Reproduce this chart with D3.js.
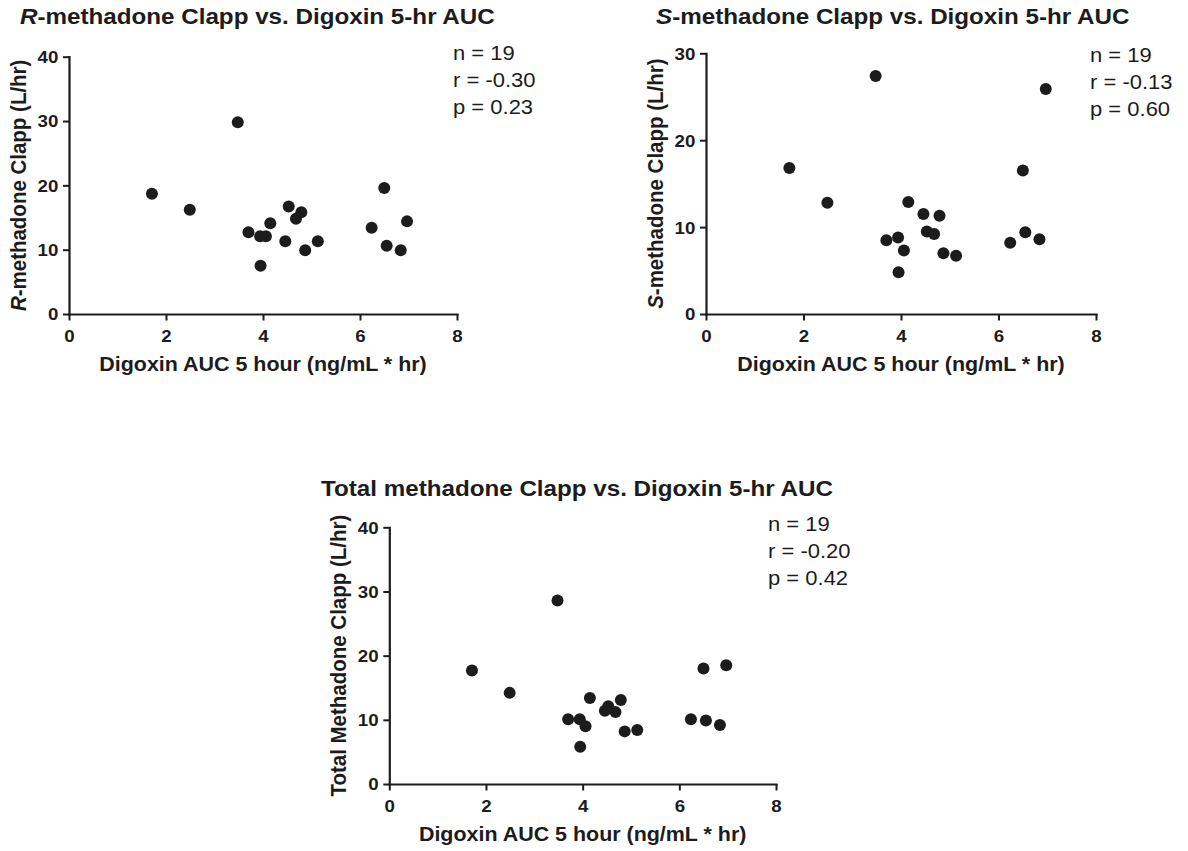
<!DOCTYPE html>
<html>
<head>
<meta charset="utf-8">
<script src="https://cdn.jsdelivr.net/npm/d3@7"></script>
<style>
  html, body { margin: 0; padding: 0; background: #fff; }
  svg { display: block; font-family: "Liberation Sans", Arial, Helvetica, sans-serif; }
</style>
</head>
<body>
<svg id="chart" width="1188" height="851"></svg>
<script>
// Digoxin 5-hr AUC (ng/mL * hr), one value per subject (n = 19)
const digoxinAUC = [1.71, 2.49, 3.48, 3.70, 3.94, 4.06, 3.95, 4.15, 4.46, 4.53,
                    4.68, 4.79, 4.87, 5.13, 6.24, 6.50, 6.55, 6.84, 6.97];

// Apparent oral clearance (L/hr) for each subject
const rClapp = [18.7, 16.2, 29.8, 12.7, 12.1, 12.1, 7.5, 14.1, 11.3, 16.7,
                14.8, 15.8, 9.9, 11.3, 13.4, 19.6, 10.6, 9.9, 14.4];
const sClapp = [16.8, 12.8, 27.4, 8.5, 8.8, 7.3, 4.8, 12.9, 11.5, 9.5,
                9.2, 11.3, 7.0, 6.7, 8.2, 16.5, 9.4, 8.6, 25.9];
const totalClapp = [17.7, 14.2, 28.6, 10.1, 10.1, 9.0, 5.8, 13.4, 11.4, 12.1,
                    11.2, 13.1, 8.2, 8.4, 10.1, 18.0, 9.9, 9.2, 18.5];

// Axis ticks
const xTicks = [0, 2, 4, 6, 8];
const yTicks40 = [0, 10, 20, 30, 40];
const yTicks30 = [0, 10, 20, 30];

// Correlation summaries
const rStats = ["n = 19", "r = -0.30", "p = 0.23"];
const sStats = ["n = 19", "r = -0.13", "p = 0.60"];
const totalStats = ["n = 19", "r = -0.20", "p = 0.42"];

// Titles and axis labels ([italic prefix, rest])
const rTitle = ["R", "-methadone Clapp vs. Digoxin 5-hr AUC"];
const sTitle = ["S", "-methadone Clapp vs. Digoxin 5-hr AUC"];
const totalTitle = ["", "Total methadone Clapp vs. Digoxin 5-hr AUC"];
const rYLabel = ["R", "-methadone Clapp (L/hr)"];
const sYLabel = ["S", "-methadone Clapp (L/hr)"];
const totalYLabel = ["", "Total Methadone Clapp (L/hr)"];
const xLabel = "Digoxin AUC 5 hour (ng/mL * hr)";

const INK = "#1c1c1c";
const STRETCH = 1.1; // glyphs are set slightly wide

const panels = [
  { title: rTitle, yLabel: rYLabel, yValues: rClapp, yTicks: yTicks40, stats: rStats,
    box: { left: 69, right: 457, top: 56.7, bottom: 314 },
    titleX: 20, titleY: 23.5, statX: 453, statY: 60, yLabX: 26, xLabY: 371 },
  { title: sTitle, yLabel: sYLabel, yValues: sClapp, yTicks: yTicks30, stats: sStats,
    box: { left: 706, right: 1096, top: 53.3, bottom: 314 },
    titleX: 656, titleY: 23.5, statX: 1090, statY: 62, yLabX: 663, xLabY: 371 },
  { title: totalTitle, yLabel: totalYLabel, yValues: totalClapp, yTicks: yTicks40, stats: totalStats,
    box: { left: 389.3, right: 776, top: 527.3, bottom: 784 },
    titleX: 321, titleY: 496, statX: 768, statY: 531, yLabX: 346, xLabY: 841 }
];

const svg = d3.select("#chart");

function richText(sel, parts) {
  if (parts[0]) sel.append("tspan").attr("font-style", "italic").text(parts[0]);
  sel.append("tspan").text(parts[1]);
}

panels.forEach(p => {
  const g = svg.append("g");
  const b = p.box;
  const x = d3.scaleLinear().domain([0, 8]).range([b.left, b.right]);
  const yMax = p.yTicks[p.yTicks.length - 1];
  const y = d3.scaleLinear().domain([0, yMax]).range([b.bottom, b.top]);

  // Title
  const t = g.append("text")
    .attr("transform", `translate(${p.titleX},${p.titleY}) scale(${STRETCH},1)`)
    .attr("font-size", 22).attr("font-weight", "bold").attr("fill", INK);
  richText(t, p.title);

  // X axis
  const xa = g.append("g")
    .attr("transform", `translate(0,${b.bottom})`)
    .call(d3.axisBottom(x).tickValues(xTicks).tickSize(6.5).tickSizeOuter(0).tickFormat(d3.format("d")));
  // Y axis
  const ya = g.append("g")
    .attr("transform", `translate(${b.left},0)`)
    .call(d3.axisLeft(y).tickValues(p.yTicks).tickSize(6).tickSizeOuter(0).tickFormat(d3.format("d")));

  [xa, ya].forEach(a => {
    a.attr("font-size", 17).attr("font-family", null);
    a.select(".domain").attr("stroke", INK).attr("stroke-width", 2.2).attr("stroke-linecap", "square");
    a.selectAll(".tick line").attr("stroke", INK).attr("stroke-width", 2);
    a.selectAll(".tick text")
      .attr("fill", INK).attr("font-size", 17).attr("font-weight", "bold");
  });
  xa.selectAll(".tick text").attr("y", 27.7).attr("dy", null)
    .attr("transform", `scale(${STRETCH},1)`);
  ya.selectAll(".tick text").attr("x", -10.7 / STRETCH).attr("dy", "0.35em")
    .attr("transform", `scale(${STRETCH},1)`);

  // X axis label
  g.append("text")
    .attr("transform", `translate(${(b.left + b.right) / 2},${p.xLabY}) scale(${STRETCH},1)`)
    .attr("text-anchor", "middle").attr("font-size", 19.5).attr("font-weight", "bold")
    .attr("fill", INK).text(xLabel);

  // Y axis label
  const yl = g.append("text")
    .attr("transform", `translate(${p.yLabX},${(b.top + b.bottom) / 2}) scale(${STRETCH},1) rotate(-90)`)
    .attr("text-anchor", "middle").attr("font-size", 20.5).attr("font-weight", "bold")
    .attr("fill", INK);
  richText(yl, p.yLabel);

  // Points
  g.append("g").selectAll("circle")
    .data(digoxinAUC.map((d, i) => [d, p.yValues[i]]))
    .join("circle")
    .attr("cx", d => x(d[0]))
    .attr("cy", d => y(d[1]))
    .attr("r", 6)
    .attr("fill", INK);

  // Statistics block
  g.append("g").selectAll("text")
    .data(p.stats)
    .join("text")
    .attr("transform", (d, i) => `translate(${p.statX},${p.statY + i * 27.2}) scale(${STRETCH},1)`)
    .attr("font-size", 20).attr("fill", INK)
    .text(d => d);
});
</script>
</body>
</html>
